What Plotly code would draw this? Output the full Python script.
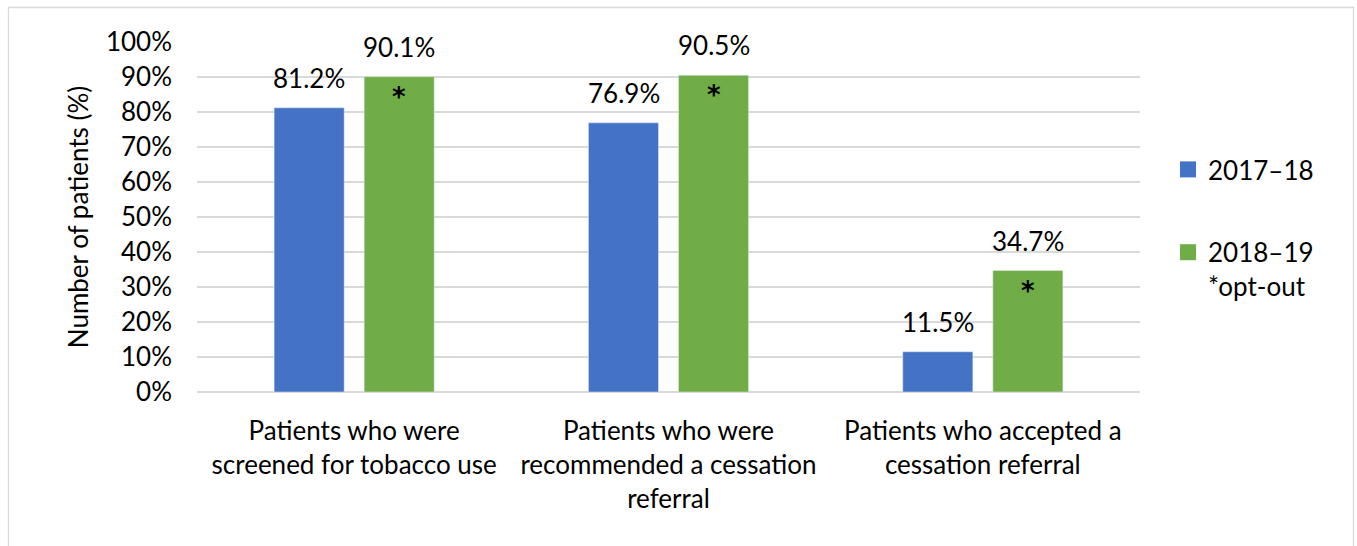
import plotly.graph_objects as go

categories = ["Patients who were<br>screened for tobacco use",
              "Patients who were<br>recommended a cessation<br>referral",
              "Patients who accepted a<br>cessation referral"]
series_names = ["2017–18", "2018–19"]
legend_note = "*opt-out"
values_1718 = [81.2, 76.9, 11.5]
values_1819 = [90.1, 90.5, 34.7]
tick_vals = [0, 10, 20, 30, 40, 50, 60, 70, 80, 90, 100]
tick_text = [f"{v}%" for v in tick_vals]
BLUE = "#4472C4"
GREEN = "#70AD47"
FONT = "Lato"
FS = 26

W, H = 1357, 546
L, R, T, B = 197, 217, 42, 154
pw = W - L - R
ph = H - T - B

fig = go.Figure()
fig.add_trace(go.Bar(x=categories, y=values_1718, name=series_names[0], marker_color=BLUE,
                     showlegend=False))
fig.add_trace(go.Bar(x=categories, y=values_1819, name=series_names[1],
                     marker_color=GREEN, showlegend=False))
# legend entries with square symbols
fig.add_trace(go.Scatter(x=[None], y=[None], mode="markers", name=series_names[0],
                         marker=dict(symbol="square", size=16, color=BLUE),
                         legendgroup="a"))
fig.add_trace(go.Scatter(x=[None], y=[None], mode="markers",
                         name=series_names[1] + "<br>" + legend_note,
                         marker=dict(symbol="square", size=16, color=GREEN),
                         legendgroup="b"))

ann = []
for c, v in zip(categories, values_1718):
    ann.append(dict(x=c, y=v, xref="x", yref="y", text=f"{v}%", showarrow=False,
                    xshift=-45, yshift=12, yanchor="bottom",
                    font=dict(family=FONT, size=FS, color="#000")))
for c, v in zip(categories, values_1819):
    ann.append(dict(x=c, y=v, xref="x", yref="y", text=f"{v}%", showarrow=False,
                    xshift=45, yshift=12, yanchor="bottom",
                    font=dict(family=FONT, size=FS, color="#000")))
    ann.append(dict(x=c, y=v, xref="x", yref="y", text="<b>*</b>", showarrow=False,
                    xshift=45, yshift=-3, yanchor="top",
                    font=dict(family="DejaVu Sans", size=26, color="#000")))

def px(xp):
    return (xp - L) / pw
def py(yp):
    return (H - B - yp) / ph

fig.add_shape(type="rect", xref="paper", yref="paper",
              x0=px(8.5), x1=px(1353.5), y0=py(560), y1=py(7.5),
              line=dict(color="#d9d9d9", width=1.3), fillcolor="rgba(0,0,0,0)", layer="below")

fig.update_layout(
    width=W, height=H,
    margin=dict(l=L, r=R, t=T, b=B, autoexpand=False),
    paper_bgcolor="white", plot_bgcolor="white",
    barmode="group", bargap=0.427, bargroupgap=0.222,
    font=dict(family=FONT, size=FS, color="#000"),
    annotations=ann,
    showlegend=True,
    legend=dict(x=px(1168), y=py(146), xanchor="left", yanchor="top",
                traceorder="grouped", tracegroupgap=46, valign="top",
                font=dict(family=FONT, size=FS, color="#000"),
                itemwidth=30, itemsizing="trace", bgcolor="rgba(0,0,0,0)"),
)
fig.update_yaxes(range=[0, 100], tickvals=tick_vals, ticktext=tick_text,
                 showgrid=True, gridcolor="#d9d9d9", gridwidth=1.5,
                 zeroline=True, zerolinecolor="#d9d9d9", zerolinewidth=1.5,
                 showline=False, ticklabelstandoff=24,
                 title=dict(text="Number of patients (%)", standoff=9,
                            font=dict(family=FONT, size=FS, color="#000")),
                 tickfont=dict(family=FONT, size=FS, color="#000"))
fig.update_xaxes(showline=False, ticks="", ticklabelstandoff=21,
                 tickfont=dict(family=FONT, size=FS, color="#000"))

fig.write_html("out.html")
